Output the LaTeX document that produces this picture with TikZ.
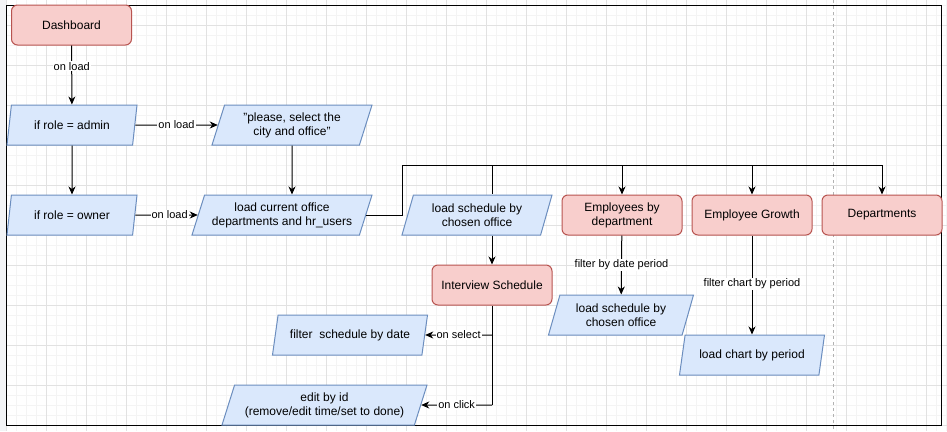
\documentclass[tikz,border=0pt]{standalone}
\usepackage{fontspec}
\setmainfont{Liberation Sans}
\usetikzlibrary{shapes.geometric,arrows.meta}
\definecolor{pagefill}{HTML}{F8CECC}
\definecolor{pageline}{HTML}{B85450}
\definecolor{actfill}{HTML}{DAE8FC}
\definecolor{actline}{HTML}{6C8EBF}
\definecolor{gridminor}{HTML}{F4F4F4}
\definecolor{gridmajor}{HTML}{E2E2E2}
\definecolor{sidegray}{HTML}{F3F4F6}

\begin{document}
\begin{tikzpicture}[x=1pt,y=-1pt,
  page/.style={draw=pageline,fill=pagefill,rounded corners=6pt,line width=1pt,
    minimum width=120pt,minimum height=40pt,align=center,inner sep=0pt,
    font=\fontsize{12}{14}\selectfont},
  action/.style={trapezium,trapezium left angle=63.43,trapezium right angle=116.57,
    trapezium stretches body,draw=actline,fill=actfill,line width=1pt,
    minimum height=40pt,align=center,inner sep=0pt,
    font=\fontsize{12}{14}\selectfont},
  lbl/.style={fill=white,inner sep=1pt,font=\fontsize{11}{13}\selectfont},
  wire/.style={line width=1pt},
  arr/.style={wire,-{Stealth[length=8pt,width=7pt,inset=2.5pt]}}]
\useasboundingbox (0,0) rectangle (947,431);

% Canvas with grid
\fill[white] (0,0) rectangle (947,431);
\fill[sidegray] (0,0) rectangle (6,431);
\foreach \x in {6.7,16.7,...,946.7} \draw[gridminor,line width=1pt] (\x,0) -- (\x,431);
\foreach \y in {5,15,...,431} \draw[gridminor,line width=1pt] (6,\y) -- (947,\y);
\foreach \x in {6.7,46.7,...,946.7} \draw[gridmajor,line width=1pt] (\x,0) -- (\x,431);
\foreach \y in {25,65,...,431} \draw[gridmajor,line width=1pt] (6,\y) -- (947,\y);
\draw[black!30,line width=1pt,dash pattern=on 3pt off 3pt] (833,0) -- (833,431);
\draw[line width=1pt] (6,5) rectangle (941,425);

% Pages
\node[page] (dash) at (71.5,25) {Dashboard};
\node[page] (interview) at (492,285) {Interview Schedule};
\node[page] (empdept) at (622,215) {Employees by\\department};
\node[page] (empgrowth) at (752,215) {Employee Growth};
\node[page] (depts) at (882,215) {Departments};

% Actions
\node[action,minimum width=130pt] (admin) at (72,125) {if role = admin};
\node[action,minimum width=130pt] (owner) at (72,215) {if role = owner};
\node[action,minimum width=160pt] (askcity) at (292,125) {"please, select the\\city and office"};
\node[action,minimum width=180pt] (loadoffice) at (282,215) {load current office\\departments and hr\_users};
\node[action,minimum width=150pt] (loadsched) at (477,215) {load schedule by\\chosen office};
\node[action,minimum width=145pt] (loaddept) at (621,315) {load schedule by\\chosen office};
\node[action,minimum width=145pt] (loadchart) at (752,355) {load chart by period};
\node[action,minimum width=155pt] (filterdate) at (350,335) {filter\ \ schedule by date};
\node[action,minimum width=205pt] (editid) at (324.5,405) {edit by id\\(remove/edit time/set to done)};

% Role checks
\draw[arr] (dash) -- node[lbl,pos=0.35] {on load} (admin);
\draw[arr] (admin) -- (owner);
\draw[arr] (admin) -- node[lbl] {on load} (askcity);
\draw[arr] (owner) -- node[lbl,pos=0.55] {on load} (loadoffice);
\draw[arr] (askcity) -- (askcity |- loadoffice.north);

% Trunk to the pages
\coordinate (trunk) at (402,165);
\draw[arr] (loadoffice.east) -| (trunk) -| (depts.north);
\draw[wire] (interview |- trunk) -- (interview |- loadsched.north);
\draw[arr] (interview |- loadsched.south) -- (interview);
\draw[arr] (empdept |- trunk) -- (empdept);
\draw[arr] (empgrowth |- trunk) -- (empgrowth);

% Filters
\draw[arr] (empdept) -- node[lbl] {filter by date period} (loaddept);
\draw[arr] (empgrowth) -- node[lbl,pos=0.49] {filter chart by period} (loadchart);

% Interview schedule events
\coordinate (tail) at (interview |- editid);
\draw[wire] (interview) -- (tail);
\draw[arr] (interview |- filterdate) -- node[lbl] {on select} (filterdate);
\draw[arr] (tail) -- node[lbl] {on click} (editid);
\end{tikzpicture}
\end{document}
